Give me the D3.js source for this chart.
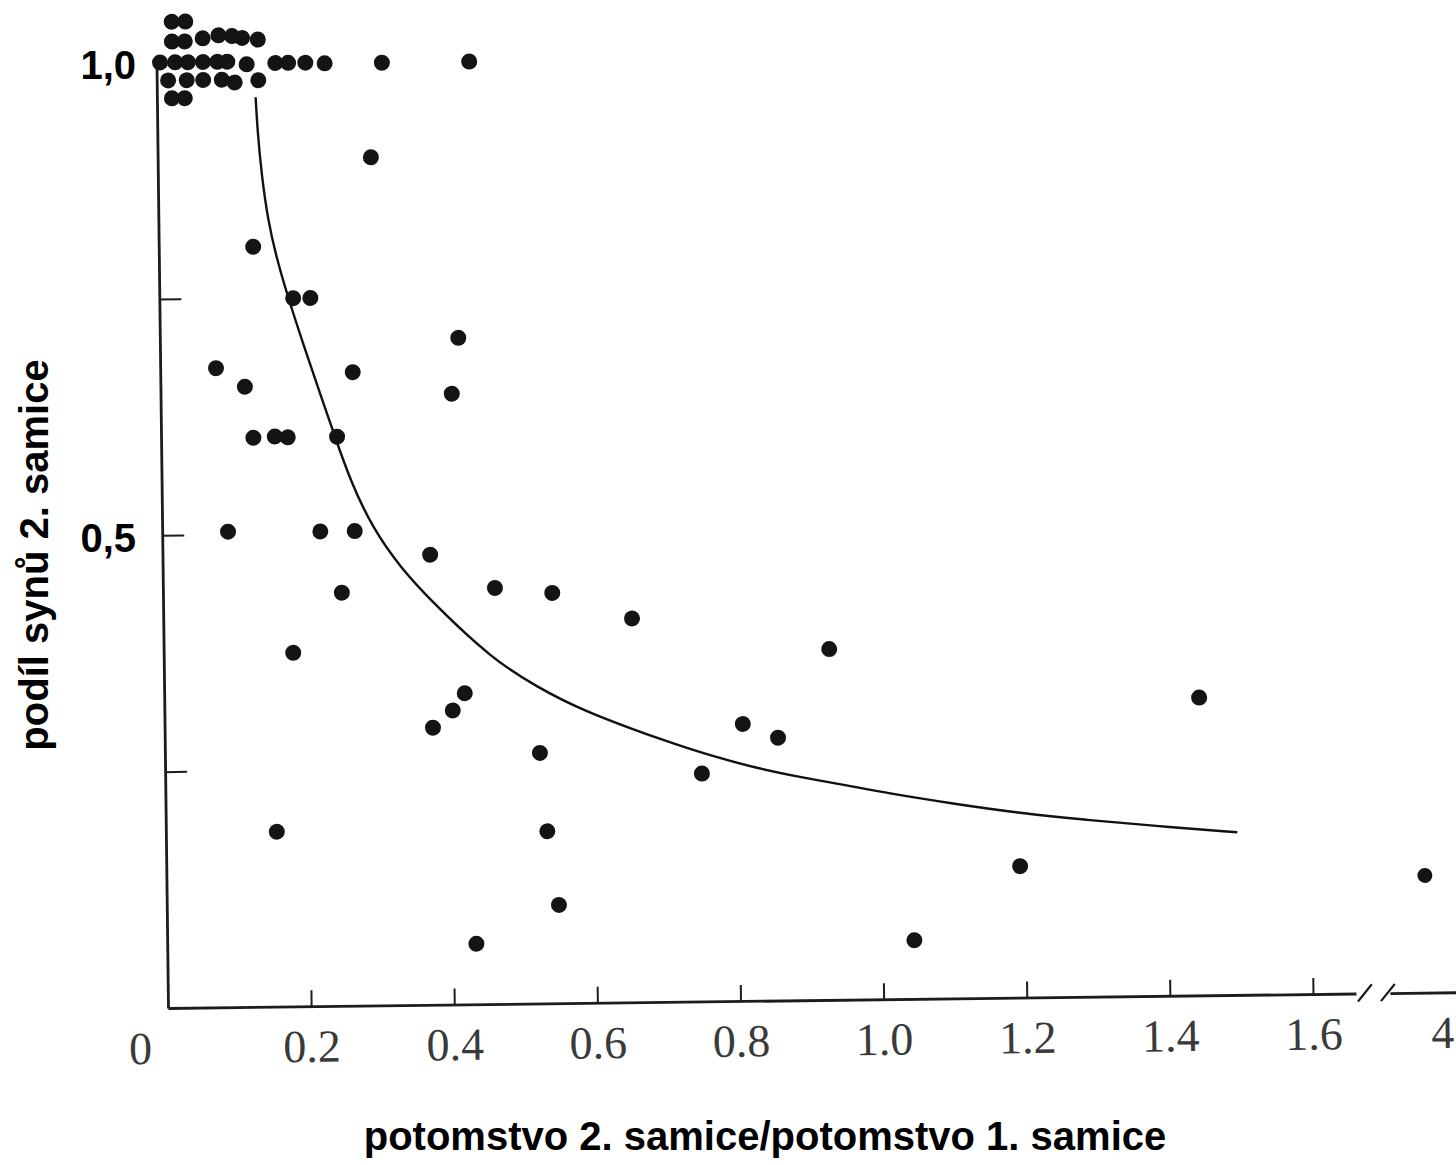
<!DOCTYPE html>
<html>
<head>
<meta charset="utf-8">
<script src="https://cdn.jsdelivr.net/npm/d3@7"></script>
<style>
  body { margin: 0; background: #fff; }
  svg { display: block; }
</style>
</head>
<body>
<div id="chart"></div>
<script>
// DATA
// x = potomstvo 2. samice / potomstvo 1. samice, y = podil synu 2. samice
// points at y = 1 are stacked in the original, so they sit a bit above/below 1
var ptX = [0.022, 0.041,
           0.022, 0.040, 0.065, 0.087, 0.106, 0.120, 0.142,
           0.005, 0.026, 0.044, 0.065, 0.085, 0.099, 0.126, 0.166, 0.184, 0.208, 0.235, 0.315, 0.437,
           0.016, 0.042, 0.065, 0.091, 0.109, 0.142,
           0.021, 0.039,
           0.298, 0.132, 0.187, 0.211, 0.417, 0.078, 0.118, 0.269, 0.407,
           0.129, 0.159, 0.177, 0.246, 0.092, 0.221, 0.269, 0.374, 0.464,
           0.544, 0.250, 0.655, 0.181, 0.930, 0.420, 0.403, 0.375, 1.446,
           0.808, 0.857, 0.524, 0.750, 0.155, 0.533, 1.193, 0.548, 0.432, 1.044];
var ptY = [1.043, 1.043,
           1.022, 1.022, 1.025, 1.028, 1.027, 1.025, 1.023,
           1.000, 1.000, 1.000, 1.000, 1.000, 1.000, 0.997, 0.998, 0.998, 0.998, 0.997, 0.997, 0.997,
           0.981, 0.981, 0.981, 0.981, 0.978, 0.980,
           0.962, 0.962,
           0.897, 0.804, 0.749, 0.749, 0.705, 0.676, 0.656, 0.670, 0.646,
           0.602, 0.603, 0.602, 0.602, 0.503, 0.502, 0.502, 0.476, 0.440,
           0.434, 0.437, 0.406, 0.374, 0.371, 0.329, 0.311, 0.293, 0.315,
           0.293, 0.278, 0.265, 0.241, 0.185, 0.182, 0.139, 0.104, 0.064, 0.062];

// the one point past the axis break
var farX = [3.94];
var farY = [0.124];

// fitted curve
var fitX = [0.138, 0.140, 0.145, 0.153, 0.165, 0.181, 0.203, 0.226, 0.243, 0.264, 0.294,
            0.332, 0.377, 0.460, 0.521, 0.581, 0.702, 0.766, 0.827, 0.887, 0.957,
            1.008, 1.100, 1.194, 1.287, 1.380, 1.497];
var fitY = [0.962, 0.927, 0.880, 0.832, 0.790, 0.747, 0.694, 0.641, 0.602, 0.555, 0.505,
            0.463, 0.425, 0.364, 0.335, 0.310, 0.275, 0.259, 0.246, 0.236, 0.226,
            0.218, 0.206, 0.195, 0.187, 0.180, 0.172];

var xTicks = [0.2, 0.4, 0.6, 0.8, 1.0, 1.2, 1.4, 1.6];
var farTicks = [4];
var yTicks = [0.25, 0.5, 0.75, 1.0];
var yLabels = [1.0, 0.5];

var yTitle = "podíl synů 2. samice";
var xTitle = "potomstvo 2. samice/potomstvo 1. samice";

// SIZES
var width = 1456, height = 1165;
var origin = {x: 168, y: 1008};
var tilt = -0.7; // the scan is slightly rotated

var svg = d3.select("#chart").append("svg")
    .attr("width", width)
    .attr("height", height);

svg.append("rect").attr("width", width).attr("height", height).attr("fill", "#fff");

var x = d3.scaleLinear().domain([0, 1.66]).range([0, 1188]);
var xFar = d3.scaleLinear().domain([3.8, 4.1]).range([1222, 1300]);
var y = d3.scaleLinear().domain([0, 1]).range([0, -945.5]);

// everything that came from the scanned figure goes in this group
var scan = svg.append("g")
    .attr("transform", "translate(" + origin.x + "," + origin.y + ") rotate(" + tilt + ")");

var inkAxis = "#1c1c1c";
var inkText = "#3a3a3a";
var serif = "'Liberation Serif', 'DejaVu Serif', serif";

function styleAxis(g) {
  g.attr("font-family", serif).attr("font-size", 46);
  g.selectAll("path.domain").attr("stroke", inkAxis).attr("stroke-width", 2.8);
  g.selectAll(".tick line").attr("stroke", inkAxis).attr("stroke-width", 2);
  g.selectAll(".tick text").attr("fill", inkText);
}

// x axis, ticks point up into the plot
scan.append("g")
    .call(d3.axisBottom(x).tickValues(xTicks).tickSize(-16).tickSizeOuter(0)
      .tickPadding(23).tickFormat(d3.format(".1f")))
    .call(styleAxis);

// piece of axis after the break
scan.append("g")
    .call(d3.axisBottom(xFar).tickValues(farTicks).tickSize(0).tickSizeOuter(0)
      .tickPadding(23).tickFormat(d3.format("d")))
    .call(styleAxis);

// break marks
var breakAt = [x.range()[1] + 8, x.range()[1] + 31];
scan.selectAll("line.brk").data(breakAt).join("line")
    .attr("class", "brk")
    .attr("x1", d => d - 6).attr("y1", 8)
    .attr("x2", d => d + 8).attr("y2", -9)
    .attr("stroke", inkAxis).attr("stroke-width", 2.2);

// "0" under the origin
scan.append("text")
    .attr("x", x(0) - 28).attr("y", 23).attr("dy", "0.71em")
    .attr("text-anchor", "middle")
    .attr("font-family", serif).attr("font-size", 46).attr("fill", inkText)
    .text("0");

// y axis, ticks point right
scan.append("g")
    .call(d3.axisRight(y).tickValues(yTicks).tickSize(22).tickSizeOuter(0).tickFormat(""))
    .call(styleAxis);

// fitted curve
var fit = d3.line()
    .x(i => x(fitX[i]))
    .y(i => y(fitY[i]))
    .curve(d3.curveBasis);

scan.append("path")
    .datum(d3.range(fitX.length))
    .attr("d", fit)
    .attr("fill", "none")
    .attr("stroke", "#111")
    .attr("stroke-width", 2.4);

// points
scan.selectAll("circle.pt").data(d3.range(ptX.length)).join("circle")
    .attr("class", "pt")
    .attr("cx", i => x(ptX[i]))
    .attr("cy", i => y(ptY[i]))
    .attr("r", 8)
    .attr("fill", "#141414");

scan.selectAll("circle.far").data(d3.range(farX.length)).join("circle")
    .attr("class", "far")
    .attr("cx", i => xFar(farX[i]))
    .attr("cy", i => y(farY[i]))
    .attr("r", 7.5)
    .attr("fill", "#141414");

// LABELS added on top of the scan (not tilted)
var sans = "'Liberation Sans', Arial, sans-serif";

svg.selectAll("text.ylab").data(yLabels).join("text")
    .attr("class", "ylab")
    .attr("x", 136)
    .attr("y", d => origin.y + y(d))
    .attr("dy", "0.42em")
    .attr("text-anchor", "end")
    .attr("font-family", sans).attr("font-weight", "bold").attr("font-size", 40)
    .attr("fill", "#000")
    .text(d => d3.format(".1f")(d).replace(".", ","));

svg.append("text")
    .attr("transform", "translate(48,555) rotate(-90)")
    .attr("text-anchor", "middle")
    .attr("font-family", sans).attr("font-weight", "bold").attr("font-size", 40)
    .attr("fill", "#000")
    .text(yTitle);

svg.append("text")
    .attr("x", 765).attr("y", 1150)
    .attr("text-anchor", "middle")
    .attr("font-family", sans).attr("font-weight", "bold").attr("font-size", 40)
    .attr("fill", "#000")
    .text(xTitle);
</script>
</body>
</html>
